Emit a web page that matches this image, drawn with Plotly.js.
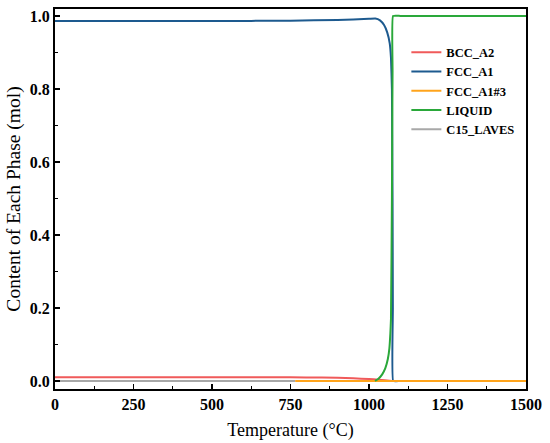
<!DOCTYPE html>
<html>
<head>
<meta charset="utf-8">
<script src="https://cdn.plot.ly/plotly-3.0.1.min.js"></script>
<style>html,body{margin:0;padding:0;background:#fff}#chart{width:550px;height:443px}</style>
</head>
<body>
<div id="chart"></div>
<script>
// Phase names
const phaseNames = ['BCC_A2', 'FCC_A1', 'FCC_A1#3', 'LIQUID', 'C15_LAVES'];

// BCC_A2
const bccT = [0, 250, 500, 700, 800, 900, 950, 1000, 1030, 1050, 1065, 1080];
const bccY = [0.010, 0.010, 0.010, 0.010, 0.0098, 0.0085, 0.0072, 0.0055, 0.0035, 0.002, 0.0008, 0.0];

// FCC_A1
const fccT = [0, 250, 500, 750, 900, 1000, 1020, 1035, 1048, 1058, 1066, 1070, 1073, 1075, 1076, 1077, 1100, 1500];
const fccY = [0.986, 0.986, 0.986, 0.987, 0.989, 0.992, 0.993, 0.988, 0.975, 0.955, 0.925, 0.885, 0.8, 0.5, 0.2, 0.0, 0.0, 0.0];

// FCC_A1#3
const fcc3T = [765, 1000, 1250, 1500];
const fcc3Y = [0, 0, 0, 0];

// LIQUID
const liqT = [1019, 1030, 1042, 1052, 1060, 1065, 1068, 1070, 1073, 1075, 1076.5, 1100, 1250, 1500];
const liqY = [0.0, 0.006, 0.018, 0.035, 0.06, 0.09, 0.13, 0.17, 0.5, 0.85, 1.0, 1.0, 1.0, 1.0];

// C15_LAVES
const lavT = [0, 250, 500, 765];
const lavY = [0, 0, 0, 0];

const colors = ['#f05a5a', '#1d5a8f', '#ffa41c', '#2aa83a', '#a8a8a8'];

const traces = [
  {x: lavT, y: lavY, name: phaseNames[4], color: colors[4], order: 4},
  {x: bccT, y: bccY, name: phaseNames[0], color: colors[0], order: 0},
  {x: fccT, y: fccY, name: phaseNames[1], color: colors[1], order: 1},
  {x: fcc3T, y: fcc3Y, name: phaseNames[2], color: colors[2], order: 2},
  {x: liqT, y: liqY, name: phaseNames[3], color: colors[3], order: 3}
].map(t => ({
  x: t.x, y: t.y, name: t.name, type: 'scatter', mode: 'lines',
  line: {color: t.color, width: 2, shape: 'spline', smoothing: 0.3},
  legendrank: t.order + 1
}));

const serif = 'Liberation Serif, Times New Roman, serif';
const tickFont = {family: serif, size: 16, color: '#000', weight: 'bold'};

const layout = {
  width: 550, height: 443,
  margin: {l: 55, r: 24, t: 9, b: 54},
  paper_bgcolor: '#fff', plot_bgcolor: '#fff',
  showlegend: true,
  legend: {
    x: 0.746, y: 0.925, xanchor: 'left', yanchor: 'top',
    bgcolor: 'rgba(0,0,0,0)', borderwidth: 0,
    font: {family: serif, size: 12.5, color: '#000', weight: 'bold'},
    traceorder: 'normal'
  },
  xaxis: {
    range: [0, 1500], dtick: 250, tick0: 0,
    ticks: 'inside', ticklen: 5, tickwidth: 1.5, tickcolor: '#000',
    showline: true, linecolor: '#000', linewidth: 2, mirror: true,
    showgrid: false, zeroline: false,
    tickfont: tickFont,
    minor: {dtick: 125, ticks: 'inside', ticklen: 3, tickwidth: 1.2, tickcolor: '#000', showgrid: false},
    title: {text: 'Temperature (°C)', font: {family: serif, size: 18, color: '#000'}, standoff: 11}
  },
  yaxis: {
    range: [-0.022, 1.019], dtick: 0.2, tick0: 0, tickformat: '.1f',
    ticks: 'inside', ticklen: 5, tickwidth: 1.5, tickcolor: '#000',
    showline: true, linecolor: '#000', linewidth: 2, mirror: true,
    showgrid: false, zeroline: false,
    tickfont: tickFont,
    minor: {dtick: 0.1, ticks: 'inside', ticklen: 3, tickwidth: 1.2, tickcolor: '#000', showgrid: false},
    title: {text: 'Content of Each Phase (mol)', font: {family: serif, size: 19.5, color: '#000'}, standoff: 4}
  }
};

Plotly.newPlot('chart', traces, layout, {displayModeBar: false, staticPlot: true});
</script>
</body>
</html>
